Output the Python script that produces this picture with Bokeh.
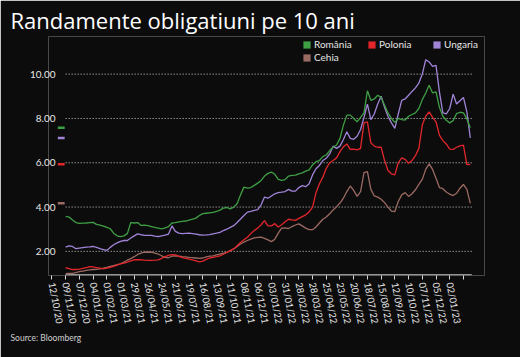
import pandas as pd
from bokeh.plotting import figure
from bokeh.models import (Range1d, FixedTicker, NumeralTickFormatter, DatetimeTickFormatter,
                          Legend, LegendItem, Title)
from bokeh.embed import file_html
from bokeh.resources import INLINE

# ---------------- data ----------------
TITLE = "Randamente obligatiuni pe 10 ani"
SOURCE = "Source: Bloomberg"
series_names = ["România", "Polonia", "Ungaria", "Cehia"]
series_colors = ["#3f9f45", "#e2262b", "#a184d8", "#9b6a62"]

first_date = "2020-11-09"      # first weekly observation
n_weeks = 119                  # weekly observations

romania = [3.58, 3.55, 3.42, 3.30, 3.26, 3.27, 3.28, 3.30, 3.31, 3.22,
           3.18, 3.14, 3.08, 3.02, 2.82, 2.70, 2.67, 2.70, 2.80, 3.30,
           3.28, 3.30, 3.17, 3.18, 3.16, 3.12, 3.08, 3.05, 3.02, 3.06,
           3.12, 3.28, 3.30, 3.33, 3.35, 3.37, 3.41, 3.45, 3.50, 3.62,
           3.70, 3.72, 3.74, 3.76, 3.80, 3.86, 3.95, 3.98, 3.92, 4.00,
           4.15, 4.55, 4.90, 4.85, 4.88, 4.98, 5.08, 5.20, 5.40, 5.52,
           5.58, 5.48, 5.25, 5.20, 5.24, 5.40, 5.43, 5.44, 5.50, 5.54,
           5.62, 5.68, 5.90, 6.05, 6.10, 6.28, 6.35, 6.55, 6.70, 6.80,
           7.10, 7.70, 8.15, 8.15, 8.00, 7.85, 8.05, 8.25, 9.25, 8.82,
           8.88, 9.05, 8.95, 8.60, 8.25, 8.00, 7.82, 8.00, 7.95, 7.93,
           8.10, 8.18, 8.25, 8.45, 8.85, 9.15, 9.50, 9.15, 9.20, 8.50,
           8.10, 7.92, 7.80, 7.90, 8.22, 8.28, 8.25, 7.98, 7.58]

polonia = [1.26, 1.22, 1.18, 1.18, 1.20, 1.23, 1.27, 1.31, 1.30, 1.27,
           1.24, 1.21, 1.24, 1.28, 1.32, 1.38, 1.44, 1.47, 1.51, 1.57,
           1.62, 1.62, 1.62, 1.60, 1.59, 1.59, 1.60, 1.62, 1.68, 1.76,
           1.82, 1.85, 1.84, 1.77, 1.72, 1.68, 1.65, 1.61, 1.57, 1.53,
           1.56, 1.64, 1.70, 1.73, 1.76, 1.80, 1.87, 1.95, 2.03, 2.11,
           2.25, 2.40, 2.52, 2.64, 2.80, 2.94, 3.05, 3.20, 3.39, 3.15,
           3.15, 3.25, 3.10, 3.20, 3.34, 3.45, 3.42, 3.40, 3.49, 3.57,
           3.65, 3.78, 4.00, 4.65, 5.05, 5.35, 5.75, 6.00, 6.10, 6.22,
           6.50, 6.72, 6.85, 6.60, 6.62, 6.58, 6.65, 7.80, 7.85, 6.90,
           6.75, 6.70, 6.70, 6.10, 5.65, 5.50, 5.45, 6.00, 6.22, 6.15,
           5.98, 6.10, 6.32, 6.65, 7.70, 8.10, 8.30, 8.05, 7.85, 7.25,
           7.00, 6.85, 6.62, 6.60, 6.70, 6.76, 6.80, 5.92, 5.93]

ungaria = [2.19, 2.25, 2.22, 2.12, 2.15, 2.17, 2.19, 2.20, 2.22, 2.18,
           2.12, 2.08, 2.04, 2.18, 2.30, 2.38, 2.45, 2.49, 2.49, 2.60,
           2.70, 2.79, 2.75, 2.72, 2.72, 2.72, 2.69, 2.67, 2.70, 2.73,
           2.78, 3.15, 2.90, 2.82, 2.80, 2.81, 2.82, 2.80, 2.78, 2.75,
           2.73, 2.74, 2.76, 2.79, 2.82, 2.86, 2.94, 3.00, 3.08, 3.16,
           3.30, 3.46, 3.62, 3.77, 3.80, 3.85, 3.88, 4.10, 4.45, 4.40,
           4.50, 4.60, 4.65, 4.67, 4.70, 4.80, 4.72, 4.72, 4.88, 4.97,
           4.92, 5.05, 5.45, 5.73, 5.88, 6.10, 6.20, 6.40, 6.75, 6.65,
           6.75, 7.05, 7.40, 7.10, 7.06, 7.20, 7.50, 8.05, 8.65, 7.95,
           8.20, 8.65, 9.00, 8.50, 8.10, 7.80, 7.55, 8.20, 8.82, 8.88,
           9.05, 9.22, 9.38, 9.60, 10.00, 10.65, 10.55, 10.35, 10.40, 9.20,
           8.25, 8.21, 8.45, 9.10, 8.65, 8.80, 8.95, 8.30, 7.12]

cehia = [0.99, 1.00, 1.01, 1.04, 1.08, 1.11, 1.14, 1.16, 1.18, 1.19,
         1.21, 1.24, 1.28, 1.32, 1.36, 1.40, 1.44, 1.52, 1.60, 1.67,
         1.76, 1.86, 1.92, 1.96, 1.97, 1.96, 1.92, 1.88, 1.80, 1.73,
         1.71, 1.78, 1.80, 1.78, 1.76, 1.75, 1.73, 1.72, 1.70, 1.68,
         1.70, 1.75, 1.78, 1.80, 1.84, 1.88, 1.92, 1.95, 2.03, 2.11,
         2.22, 2.33, 2.42, 2.49, 2.55, 2.61, 2.63, 2.64, 2.59, 2.52,
         2.44, 2.55, 2.82, 3.05, 3.06, 3.03, 3.12, 3.19, 3.24, 3.15,
         3.05, 2.98, 2.98, 3.10, 3.28, 3.45, 3.55, 3.70, 3.87, 4.02,
         4.18, 4.40, 4.70, 4.95, 4.75, 4.48, 4.70, 5.55, 5.60, 4.80,
         4.50, 4.45, 4.35, 4.20, 4.00, 3.82, 3.80, 4.25, 4.55, 4.65,
         4.48, 4.60, 4.78, 5.02, 5.25, 5.70, 5.95, 5.70, 5.30, 4.88,
         4.83, 4.68, 4.58, 4.52, 4.62, 4.85, 5.02, 4.80, 4.17]

y_ticks = [2, 4, 6, 8, 10]
x_tick_labels = ["12/10/20", "09/11/20", "07/12/20", "04/01/21", "01/02/21", "01/03/21",
                 "29/03/21", "26/04/21", "24/05/21", "21/06/21", "19/07/21", "16/08/21",
                 "13/09/21", "11/10/21", "08/11/21", "06/12/21", "03/01/22", "31/01/22",
                 "28/02/22", "28/03/22", "25/04/22", "23/05/22", "20/06/22", "18/07/22",
                 "15/08/22", "12/09/22", "10/10/22", "07/11/22", "05/12/22", "02/01/23"]
unlabeled_tick = "30/01/23"
axis_end = "2023-02-16"
view_start, view_end = "2020-10-05", "2023-03-14"
y_view = (0.91, 11.70)

# ---------------- styling ----------------
FONT = "Lato"
TITLE_FONT = "Open Sans"
BG = "#0c0c0c"
TXT = "#e6e6e6"

dates = pd.date_range(first_date, periods=n_weeks, freq="7D")
series = [romania, polonia, ungaria, cehia]

def ms(ts):
    return int(pd.Timestamp(ts).value // 10**6)

tick_ts = [pd.to_datetime(t, format="%d/%m/%y") for t in x_tick_labels]
last_ts = pd.to_datetime(unlabeled_tick, format="%d/%m/%y")

p = figure(width=520, height=357, x_axis_type="datetime", output_backend="svg",
           toolbar_location=None,
           x_range=Range1d(pd.Timestamp(view_start), pd.Timestamp(view_end)),
           y_range=Range1d(*y_view),
           min_border_left=48, min_border_right=36, min_border_top=36, min_border_bottom=82)
p.background_fill_color = BG
p.border_fill_color = BG
p.outline_line_color = None
p.grid.visible = False

# title and source
p.add_layout(Title(text=TITLE, align="left", offset=-38, standoff=3,
                   text_font=TITLE_FONT, text_font_size="22px", text_font_style="normal",
                   text_color="#ffffff"), "above")
p.add_layout(Title(text=SOURCE, align="left", offset=-38, standoff=5,
                   text_font=FONT, text_font_size="8.5px", text_font_style="normal",
                   text_color="#d0d0d0"), "below")

# dotted horizontal gridlines
p.segment(x0=[dates[0]] * len(y_ticks), x1=[pd.Timestamp(axis_end)] * len(y_ticks),
          y0=y_ticks, y1=y_ticks, line_color="#cfcfcf", line_width=1, line_dash="1 2")

# x axis baseline (starts at the first observation)
p.segment(x0=[dates[0]], x1=[pd.Timestamp(axis_end)], y0=[y_view[0] + 0.03],
          y1=[y_view[0] + 0.03], line_color="#d9d9d9", line_width=1)

# series lines
order = [3, 2, 0, 1]
for i in order:
    p.line(dates, series[i], line_color=series_colors[i], line_width=1.3)

# last-value markers left of the series
mk_x0 = dates[0] - pd.Timedelta(days=16)
mk_x1 = dates[0] - pd.Timedelta(days=2)
for i in range(4):
    p.segment(x0=[mk_x0], x1=[mk_x1], y0=[series[i][-1]], y1=[series[i][-1]],
              line_color=series_colors[i], line_width=2.5)

# legend swatches: zero-size quads at each series' last point (invisible on the plot)
swatches = []
for i in range(4):
    swatches.append(p.quad(left=[dates[-1]], right=[dates[-1]], top=[series[i][-1]],
                           bottom=[series[i][-1]], fill_color=series_colors[i],
                           line_color=None))

legend_style = dict(background_fill_alpha=0, border_line_color=None, padding=0, margin=0,
                    spacing=4, glyph_width=9, glyph_height=9, label_height=11, label_width=49,
                    label_standoff=3, label_text_font=FONT, label_text_font_size="10px",
                    label_text_color=TXT, orientation="horizontal")
legend_top = Legend(items=[LegendItem(label=series_names[i], renderers=[swatches[i]])
                           for i in range(3)], location=(254, 225), **legend_style)
legend_bottom = Legend(items=[LegendItem(label=series_names[3], renderers=[swatches[3]])],
                       location=(254, 212), **legend_style)
p.add_layout(legend_top, "center")
p.add_layout(legend_bottom, "center")

# x axis
xa = p.xaxis[0]
xa.ticker = FixedTicker(ticks=[ms(t) for t in tick_ts] + [ms(last_ts)])
xa.formatter = DatetimeTickFormatter(days="%d/%m/%y", months="%d/%m/%y", years="%d/%m/%y")
xa.major_label_overrides = {ms(last_ts): ""}
xa.axis_line_color = None
xa.major_tick_line_color = "#d9d9d9"
xa.major_tick_out = 4
xa.major_tick_in = 0
xa.minor_tick_line_color = None
xa.major_label_orientation = -1.38
xa.major_label_standoff = 3
xa.major_label_text_font = FONT
xa.major_label_text_font_size = "9.5px"
xa.major_label_text_color = TXT

# y axis
ya = p.yaxis[0]
ya.ticker = FixedTicker(ticks=y_ticks)
ya.formatter = NumeralTickFormatter(format="0.00")
ya.axis_line_color = None
ya.major_tick_line_color = None
ya.minor_tick_line_color = None
ya.major_tick_out = 0
ya.major_tick_in = 0
ya.major_label_standoff = -7
ya.major_label_text_font = FONT
ya.major_label_text_font_size = "10px"
ya.major_label_text_color = TXT

open("out.html", "w").write(file_html(p, INLINE))
